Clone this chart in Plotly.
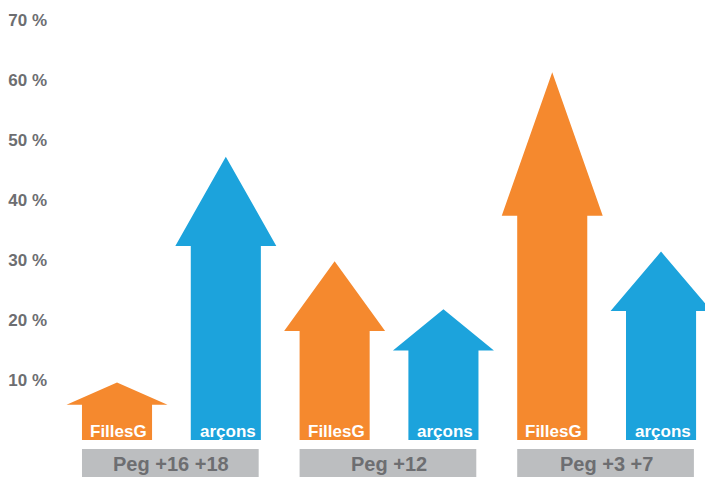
import plotly.graph_objects as go

# ---- data ----
groups = ["Peg +16 +18", "Peg +12", "Peg +3 +7"]
series_names = ["FillesG", "arçons"]
filles_values = [9.6, 29.8, 61.3]
garcons_values = [47.2, 21.8, 31.4]
tick_values = [10, 20, 30, 40, 50, 60, 70]
tick_labels = ["10 %", "20 %", "30 %", "40 %", "50 %", "60 %", "70 %"]

# ---- style ----
ORANGE = "#F5892E"
BLUE = "#1CA3DC"
BAND = "#BCBEC0"
TEXT_GRAY = "#6D6E71"
FONT = "Liberation Sans, Arial, sans-serif"
SHAFT_HALF = 0.322
HEAD_HALF = 0.464
HEAD_FRAC = {"FillesG": 0.39, "arçons": 0.315}
COLORS = {"FillesG": ORANGE, "arçons": BLUE}

fig = go.Figure()


def arrow(xc, val, name):
    sh = val * (1 - HEAD_FRAC[name])
    xs = [xc - SHAFT_HALF, xc - SHAFT_HALF, xc - HEAD_HALF, xc, xc + HEAD_HALF,
          xc + SHAFT_HALF, xc + SHAFT_HALF, xc - SHAFT_HALF]
    ys = [0, sh, sh, val, sh, sh, 0, 0]
    fig.add_trace(go.Scatter(x=xs, y=ys, mode="lines", fill="toself",
                             fillcolor=COLORS[name], line=dict(width=0, color=COLORS[name]),
                             hoverinfo="skip", showlegend=False))
    fig.add_annotation(x=xc + SHAFT_HALF, y=0, xref="x", yref="y", text=name,
                       showarrow=False, xanchor="right", yanchor="bottom",
                       xshift=-3, yshift=-3,
                       font=dict(family=FONT, size=17, color="white", weight="bold"))


band_bottom = -6.2
band_top = -1.5
for gi, g in enumerate(groups):
    xf = 2 * gi
    xg = 2 * gi + 1
    arrow(xf, filles_values[gi], series_names[0])
    arrow(xg, garcons_values[gi], series_names[1])
    fig.add_shape(type="rect", xref="x", yref="y", x0=xf - SHAFT_HALF, x1=xg + SHAFT_HALF - 0.02,
                  y0=band_bottom, y1=band_top, fillcolor=BAND, line=dict(width=0), layer="below")
    fig.add_annotation(x=(xf + xg) / 2, y=(band_top + band_bottom) / 2, xref="x", yref="y",
                       text=g, showarrow=False, yshift=-1,
                       font=dict(family=FONT, size=20, color=TEXT_GRAY, weight="bold"))

fig.update_layout(
    width=705, height=477,
    margin=dict(l=60, r=0, t=20, b=0),
    paper_bgcolor="white", plot_bgcolor="white",
    xaxis=dict(range=[-0.524, 5.404], visible=False, showgrid=False, zeroline=False),
    yaxis=dict(range=[-6.167, 70], tickvals=tick_values, ticktext=tick_labels,
               showgrid=False, zeroline=False, showline=False, ticks="",
               ticklabelstandoff=12,
               tickfont=dict(family=FONT, size=17, color=TEXT_GRAY, weight="bold")),
)

fig.write_html("out.html", config={"displayModeBar": False},
               post_script="document.body.style.margin='0';document.body.style.overflow='hidden';")
